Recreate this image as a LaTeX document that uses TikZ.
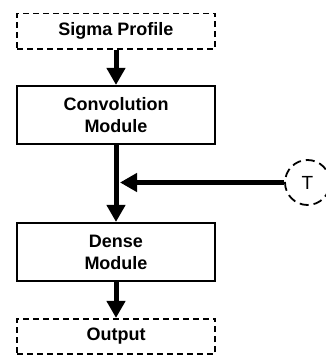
\documentclass[tikz,border=0pt]{standalone}
\usepackage{fontspec}
\setmainfont{Liberation Sans}
\usetikzlibrary{arrows.meta,positioning}

\begin{document}
\begin{tikzpicture}[
    x=1pt, y=1pt,
    block/.style={draw, line width=1.6pt, minimum width=198pt, align=center,
      font=\bfseries\fontsize{18}{22}\selectfont},
    iobox/.style={block, dashed, dash pattern=on 6pt off 4pt, minimum height=35.5pt},
    module/.style={block, minimum height=58.5pt},
    input/.style={draw, circle, line width=1.8pt, dash pattern=on 9pt off 5pt,
      minimum size=45pt, inner sep=0pt, font=\fontsize{19}{22}\selectfont},
    flow/.style={line width=5pt, -{Triangle[width=18pt,length=17pt]}}
  ]
    \useasboundingbox (0,0) rectangle (325,356);

    \node[iobox] (sigma) at (116,324.7) {Sigma Profile};
    \node[module] (conv) at (116,241) {Convolution\\Module};
    \node[module] (dense) at (116,104) {Dense\\Module};
    \node[iobox] (out) at (116,19.5) {Output};
    \node[input] (temp) at (307.5,173.5) {T};

    \coordinate (join) at (conv.south |- temp);

    \draw[flow] (sigma) -- (conv);
    \draw[flow] (conv) -- (dense);
    \draw[flow] (temp) -- ([xshift=4pt]join);
    \draw[flow] (dense) -- (out);
  \end{tikzpicture}
\end{document}
